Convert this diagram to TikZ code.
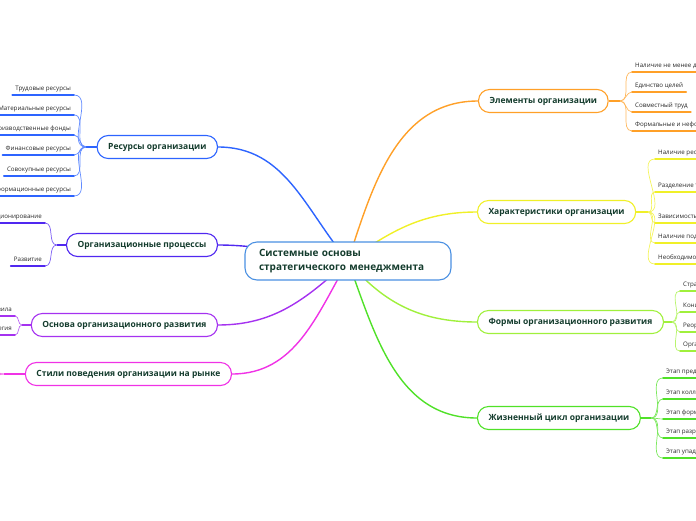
\documentclass[tikz,border=0pt]{standalone}
\usepackage{fontspec}
\setmainfont{Open Sans}
\usetikzlibrary{positioning, backgrounds}

\definecolor{rootblue}{RGB}{74,144,226}
\definecolor{resblue}{RGB}{45,100,255}
\definecolor{procblue}{RGB}{80,40,240}
\definecolor{osnpurple}{RGB}{165,50,240}
\definecolor{stymagenta}{RGB}{240,50,230}
\definecolor{eleorange}{RGB}{255,160,40}
\definecolor{charyellow}{RGB}{240,240,40}
\definecolor{formgreen}{RGB}{160,240,60}
\definecolor{lifegreen}{RGB}{80,225,40}
\definecolor{topictext}{RGB}{20,60,45}
\definecolor{leaftext}{RGB}{40,40,40}

\begin{document}
\begin{tikzpicture}[
    x=1pt, y=1pt,
    root/.style={draw=rootblue, fill=white, line width=1.1pt, rounded corners=12pt,
        text width=178pt, inner xsep=14pt, minimum height=38pt, align=left,
        text=topictext, font=\bfseries\fontsize{10}{14.5}\selectfont},
    topic/.style={draw=#1, fill=white, line width=1.1pt, rounded corners=11pt,
        minimum height=23pt, inner xsep=11pt, text=topictext,
        font=\bfseries\fontsize{8.5}{10}\selectfont},
    leaf/.style={inner xsep=3pt, inner ysep=3.3pt, text=leaftext,
        text height=4.6pt, text depth=1.4pt,
        font=\fontsize{6.2}{7}\selectfont,
        append after command={(\tikzlastnode.south west)
            edge[draw=#1, line width=1.5pt, line cap=round] (\tikzlastnode.south east)}},
    leafL/.style={leaf=#1, anchor=south east},
    leafR/.style={leaf=#1, anchor=south west},
    branch/.style={draw=#1, line width=1.4pt},
    twig/.style={draw=#1!75, line width=0.7pt}
]
\useasboundingbox (0,0) rectangle (696,-520);

% Root and main topics
\node[root] (root) at (348,-261) {Системные основы\\стратегического менеджмента};

\node[topic=resblue, anchor=east] (res) at (218,-147) {Ресурсы организации};
\node[topic=procblue, anchor=east] (proc) at (218,-245) {Организационные процессы};
\node[topic=osnpurple, anchor=east] (osn) at (218,-325) {Основа организационного развития};
\node[topic=stymagenta, anchor=east] (sty) at (232,-374) {Стили поведения организации на рынке};

\node[topic=eleorange, anchor=west] (ele) at (478,-101) {Элементы организации};
\node[topic=charyellow, anchor=west] (char) at (477,-212) {Характеристики организации};
\node[topic=formgreen, anchor=west] (form) at (477,-322) {Формы организационного развития};
\node[topic=lifegreen, anchor=west] (life) at (477,-418) {Жизненный цикл организации};

% Hubs
\coordinate (resHub) at (86,-147);
\coordinate (procHub) at (57,-245);
\coordinate (osnHub) at (22,-325);
\coordinate (styHub) at (4,-374);
\coordinate (eleHub) at (620,-101);
\coordinate (charHub) at (648,-212);
\coordinate (formHub) at (672,-322);
\coordinate (lifeHub) at (651,-418);
\coordinate (sty1) at (-16,-365);
\coordinate (sty2) at (-16,-383);

% Leaves, left
\node[leafL=resblue] (r1) at (74,-95) {Трудовые ресурсы};
\node[leafL=resblue] (r2) at (74,-115) {Материальные ресурсы};
\node[leafL=resblue] (r3) at (74,-135) {Производственные фонды};
\node[leafL=resblue] (r4) at (74,-155) {Финансовые ресурсы};
\node[leafL=resblue] (r5) at (74,-176) {Совокупные ресурсы};
\node[leafL=resblue] (r6) at (74,-196) {Информационные ресурсы};

\node[leafL=procblue] (p1) at (45,-223) {Функционирование};
\node[leafL=procblue] (p2) at (45,-266) {Развитие};

\node[leafL=osnpurple] (o1) at (15,-316) {Корпоративные правила};
\node[leafL=osnpurple] (o2) at (15,-335) {Организационная стратегия};

% Leaves, right
\node[leafR=eleorange] (e1) at (632,-72) {Наличие не менее двух людей};
\node[leafR=eleorange] (e2) at (632,-92) {Единство целей};
\node[leafR=eleorange] (e3) at (632,-112) {Совместный труд};
\node[leafR=eleorange] (e4) at (632,-131) {Формальные и неформальные правила};

\node[leafR=charyellow] (h1) at (655,-159) {Наличие ресурсов};
\node[leafR=charyellow] (h2) at (655,-192) {Разделение труда};
\node[leafR=charyellow] (h3) at (655,-223) {Зависимость от внешней среды};
\node[leafR=charyellow] (h4) at (655,-243) {Наличие подразделений};
\node[leafR=charyellow] (h5) at (655,-264) {Необходимость управления};

\node[leafR=formgreen] (f1) at (680,-291) {Стратегическое развитие};
\node[leafR=formgreen] (f2) at (680,-312) {Концентрация};
\node[leafR=formgreen] (f3) at (680,-332) {Реорганизация};
\node[leafR=formgreen] (f4) at (680,-351) {Организационные изменения};

\node[leafR=lifegreen] (z1) at (663,-378) {Этап предпринимательства};
\node[leafR=lifegreen] (z2) at (663,-399) {Этап коллективности};
\node[leafR=lifegreen] (z3) at (663,-419) {Этап формализации};
\node[leafR=lifegreen] (z4) at (663,-438) {Этап разработки структуры};
\node[leafR=lifegreen] (z5) at (663,-458) {Этап упадка};

\begin{scope}[on background layer]
% Main branches
\draw[branch=resblue] (root.center) to[out=130, in=0] (res.east);
\draw[branch=procblue] (root.center) to[out=176, in=0] (proc.east);
\draw[branch=osnpurple] (root.center) to[out=222, in=0] (osn.east);
\draw[branch=stymagenta] (root.center) to[out=240, in=0] (sty.east);
\draw[branch=eleorange] (root.center) to[out=72, in=180] (ele.west);
\draw[branch=charyellow] (root.center) to[out=35, in=180] (char.west);
\draw[branch=formgreen] (root.center) to[out=-50, in=180] (form.west);
\draw[branch=lifegreen] (root.center) to[out=-70, in=180] (life.west);

% Stems
\draw[branch=resblue] (res.west) -- (resHub);
\draw[branch=procblue] (proc.west) -- (procHub);
\draw[branch=osnpurple] (osn.west) -- (osnHub);
\draw[branch=stymagenta] (sty.west) -- (styHub);
\draw[branch=eleorange] (ele.east) -- (eleHub);
\draw[branch=charyellow] (char.east) -- (charHub);
\draw[branch=formgreen] (form.east) -- (formHub);
\draw[branch=lifegreen] (life.east) -- (lifeHub);

% Twigs
\draw[twig=resblue] (resHub) to[out=180, in=0] (r1.south east);
\draw[twig=resblue] (resHub) to[out=180, in=0] (r2.south east);
\draw[twig=resblue] (resHub) to[out=180, in=0] (r3.south east);
\draw[twig=resblue] (resHub) to[out=180, in=0] (r4.south east);
\draw[twig=resblue] (resHub) to[out=180, in=0] (r5.south east);
\draw[twig=resblue] (resHub) to[out=180, in=0] (r6.south east);
\draw[twig=procblue] (procHub) to[out=180, in=0] (p1.south east);
\draw[twig=procblue] (procHub) to[out=180, in=0] (p2.south east);
\draw[twig=osnpurple] (osnHub) to[out=180, in=0] (o1.south east);
\draw[twig=osnpurple] (osnHub) to[out=180, in=0] (o2.south east);
\draw[twig=stymagenta] (styHub) to[out=180, in=0] (sty1);
\draw[twig=stymagenta] (styHub) to[out=180, in=0] (sty2);

\draw[twig=eleorange] (eleHub) to[out=0, in=180] (e1.south west);
\draw[twig=eleorange] (eleHub) to[out=0, in=180] (e2.south west);
\draw[twig=eleorange] (eleHub) to[out=0, in=180] (e3.south west);
\draw[twig=eleorange] (eleHub) to[out=0, in=180] (e4.south west);
\draw[twig=charyellow] (charHub) to[out=0, in=180] (h1.south west);
\draw[twig=charyellow] (charHub) to[out=0, in=180] (h2.south west);
\draw[twig=charyellow] (charHub) to[out=0, in=180] (h3.south west);
\draw[twig=charyellow] (charHub) to[out=0, in=180] (h4.south west);
\draw[twig=charyellow] (charHub) to[out=0, in=180] (h5.south west);
\draw[twig=formgreen] (formHub) to[out=0, in=180] (f1.south west);
\draw[twig=formgreen] (formHub) to[out=0, in=180] (f2.south west);
\draw[twig=formgreen] (formHub) to[out=0, in=180] (f3.south west);
\draw[twig=formgreen] (formHub) to[out=0, in=180] (f4.south west);
\draw[twig=lifegreen] (lifeHub) to[out=0, in=180] (z1.south west);
\draw[twig=lifegreen] (lifeHub) to[out=0, in=180] (z2.south west);
\draw[twig=lifegreen] (lifeHub) to[out=0, in=180] (z3.south west);
\draw[twig=lifegreen] (lifeHub) to[out=0, in=180] (z4.south west);
\draw[twig=lifegreen] (lifeHub) to[out=0, in=180] (z5.south west);
\end{scope}
\end{tikzpicture}
\end{document}
